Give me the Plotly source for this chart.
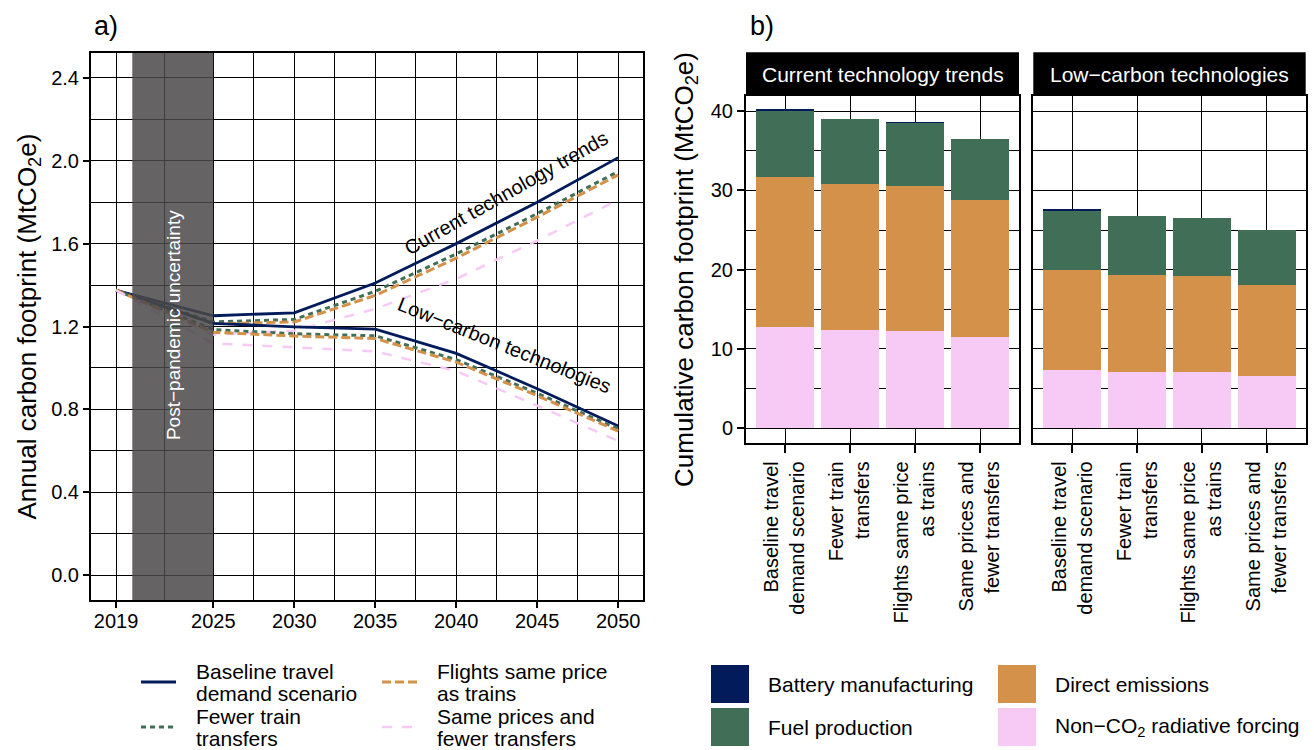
import plotly.graph_objects as go

W, H = 1314, 750
FONT = "Liberation Sans, Arial, sans-serif"

# ---- panel a: annual footprint by scenario ----
years = [2019, 2025, 2030, 2035, 2040, 2045, 2050]

current_baseline = [1.375, 1.252, 1.266, 1.410, 1.600, 1.800, 2.015]
current_fewer = [1.375, 1.222, 1.234, 1.370, 1.550, 1.745, 1.948]
current_flights = [1.375, 1.213, 1.222, 1.350, 1.530, 1.728, 1.932]
current_same = [1.375, 1.160, 1.180, 1.285, 1.430, 1.615, 1.812]

lowc_baseline = [1.375, 1.215, 1.198, 1.187, 1.070, 0.900, 0.720]
lowc_fewer = [1.375, 1.185, 1.165, 1.155, 1.040, 0.878, 0.706]
lowc_flights = [1.375, 1.172, 1.154, 1.142, 1.028, 0.866, 0.695]
lowc_same = [1.375, 1.118, 1.100, 1.080, 0.985, 0.818, 0.647]

year_ticks = [2019, 2025, 2030, 2035, 2040, 2045, 2050]
year_minor = [2022, 2027.5, 2032.5, 2037.5, 2042.5, 2047.5]
annual_ticks = [0.0, 0.4, 0.8, 1.2, 1.6, 2.0, 2.4]

# ---- panel b: cumulative footprint by component ----
scenario_labels = ["Baseline travel<br>demand scenario", "Fewer train<br>transfers",
                   "Flights same price<br>as trains", "Same prices and<br>fewer transfers"]

nonco2_current = [12.83, 12.45, 12.32, 11.56]
direct_current = [18.92, 18.42, 18.29, 17.29]
fuel_current = [8.41, 8.20, 7.99, 7.69]
battery_current = [0.05, 0.00, 0.05, 0.00]

nonco2_lowc = [7.40, 7.15, 7.15, 6.64]
direct_lowc = [12.62, 12.24, 12.11, 11.48]
fuel_lowc = [7.44, 7.44, 7.32, 6.94]
battery_lowc = [0.13, 0.00, 0.00, 0.00]

NAVY = "#011b5b"
GREEN = "#406e57"
ORANGE = "#d4914a"
PINK = "#f7caf6"

line_styles = [
    ("Baseline travel demand scenario", NAVY, 2.8, "solid"),
    ("Fewer train transfers", GREEN, 3, "5px,4px"),
    ("Flights same price as trains", ORANGE, 3, "9px,4px"),
    ("Same prices and fewer transfers", PINK, 2.5, "10px,10px"),
]


def px_x(p):
    return p / W


def px_y(p):
    return 1 - p / H


fig = go.Figure()

for series_set in ([current_baseline, current_fewer, current_flights, current_same],
                   [lowc_baseline, lowc_fewer, lowc_flights, lowc_same]):
    for vals, (name, color, width, dash) in zip(series_set, line_styles):
        fig.add_trace(go.Scatter(
            x=years, y=vals, mode="lines", name=name, showlegend=False,
            line=dict(color=color, width=width, dash=dash),
            xaxis="x", yaxis="y"))

components = [
    ("Non-CO2 radiative forcing", PINK, nonco2_current, nonco2_lowc),
    ("Direct emissions", ORANGE, direct_current, direct_lowc),
    ("Fuel production", GREEN, fuel_current, fuel_lowc),
    ("Battery manufacturing", NAVY, battery_current, battery_lowc),
]
for name, color, cur, low in components:
    fig.add_trace(go.Bar(x=scenario_labels, y=cur, name=name, showlegend=False,
                         marker=dict(color=color, line=dict(width=0)), width=0.9,
                         xaxis="x2", yaxis="y2"))
    fig.add_trace(go.Bar(x=scenario_labels, y=low, name=name, showlegend=False,
                         marker=dict(color=color, line=dict(width=0)), width=0.9,
                         xaxis="x3", yaxis="y3"))

frame = dict(showline=True, mirror=True, linecolor="black", linewidth=2,
             ticks="outside", tickcolor="black", tickwidth=2,
             showgrid=True, gridcolor="black", gridwidth=1, zeroline=False,
             tickfont=dict(family=FONT, size=20, color="black"))

dom_a_x = [px_x(91), px_x(643.3)]
dom_a_y = [px_y(600), px_y(53)]
dom_b1_x = [px_x(746), px_x(1019)]
dom_b2_x = [px_x(1033.3), px_x(1305.7)]
dom_b_y = [px_y(443.3), px_y(95.7)]

fig.update_layout(
    width=W, height=H, margin=dict(l=0, r=0, t=0, b=0),
    paper_bgcolor="white", plot_bgcolor="white", barmode="stack",
    font=dict(family=FONT, color="black"),
    xaxis=dict(domain=dom_a_x, range=[2017.45, 2051.55], tickmode="array",
               tickvals=year_ticks, ticklen=6, ticklabelstandoff=-4,
               minor=dict(tickvals=year_minor, showgrid=True, gridcolor="black",
                          gridwidth=1, ticks=""), **frame),
    yaxis=dict(domain=dom_a_y, range=[-0.12, 2.52], tickmode="array",
               tickvals=annual_ticks, ticktext=[f"{v:.1f}" for v in annual_ticks],
               ticklen=6,
               minor=dict(dtick=0.2, tick0=0, showgrid=True, gridcolor="black",
                          gridwidth=1, ticks=""), **frame),
    xaxis2=dict(domain=dom_b1_x, anchor="y2", range=[-0.6, 3.6], tickangle=-90,
                ticklen=8, categoryorder="array", categoryarray=scenario_labels, **frame),
    yaxis2=dict(domain=dom_b_y, anchor="x2", range=[-1.9, 41.95], dtick=10, tick0=0,
                ticklen=7,
                minor=dict(dtick=5, tick0=0, showgrid=True, gridcolor="black",
                           gridwidth=1, ticks=""), **frame),
    xaxis3=dict(domain=dom_b2_x, anchor="y3", range=[-0.6, 3.6], tickangle=-90,
                ticklen=8, categoryorder="array", categoryarray=scenario_labels, **frame),
    yaxis3=dict(domain=dom_b_y, anchor="x3", range=[-1.9, 41.95], dtick=10, tick0=0,
                showticklabels=False, ticks="", matches="y2",
                minor=dict(dtick=5, tick0=0, showgrid=True, gridcolor="black",
                           gridwidth=1, ticks=""),
                **{k: v for k, v in frame.items() if k != "ticks"}),
)

shapes = []
annotations = []


def note(x, y, text, size, xref="paper", yref="paper", color="black", angle=0,
         xanchor="center", yanchor="middle"):
    annotations.append(dict(x=x, y=y, xref=xref, yref=yref, text=text, textangle=angle,
                            xanchor=xanchor, yanchor=yanchor, showarrow=False,
                            font=dict(family=FONT, size=size, color=color)))


# post-pandemic band
shapes.append(dict(type="rect", xref="x", yref="y domain", x0=2020, x1=2025, y0=0, y1=1,
                   fillcolor="rgba(74,72,73,0.85)", line=dict(width=0), layer="above"))
note(2022.5, 1.206, "Post\u2212pandemic uncertainty", 19, "x", "y", "white", -90)
note(2043.07, 1.845, "Current technology trends", 20, "x", "y", angle=-29.5)
note(2042.97, 1.113, "Low\u2212carbon technologies", 20, "x", "y", angle=21.7)

# facet strips
for axref, label in (("x2", "Current technology trends"), ("x3", "Low\u2212carbon technologies")):
    shapes.append(dict(type="rect", xref=f"{axref} domain", yref="paper", x0=0, x1=1,
                       y0=px_y(95.7), y1=px_y(52.3), fillcolor="black", line=dict(width=0)))
    note(0.5, px_y(74), label, 21, f"{axref} domain", "paper", "white")

# panel tags and axis titles
note(px_x(92), px_y(26), "a)", 27, xanchor="left")
note(px_x(748), px_y(26), "b)", 27, xanchor="left")
note(px_x(28), px_y(326.5), "Annual carbon footprint (MtCO<sub>2</sub>e)", 26, angle=-90)
note(px_x(685), px_y(270), "Cumulative carbon footprint (MtCO<sub>2</sub>e)", 26, angle=-90)

# legend for panel a
legend_a = [
    (0, 141, 682, ["Baseline travel", "demand scenario"]),
    (1, 141, 727, ["Fewer train", "transfers"]),
    (2, 382, 682, ["Flights same price", "as trains"]),
    (3, 382, 727, ["Same prices and", "fewer transfers"]),
]
for idx, x0, yc, lines in legend_a:
    _, color, width, dash = line_styles[idx]
    shapes.append(dict(type="line", xref="paper", yref="paper",
                       x0=px_x(x0), x1=px_x(x0 + 35), y0=px_y(yc), y1=px_y(yc),
                       line=dict(color=color, width=width, dash=dash)))
    for k, txt in enumerate(lines):
        note(px_x(x0 + 53), px_y(yc - 10.5 + 21.5 * k), txt, 21, xanchor="left")

# legend for panel b
legend_b = [
    ("Battery manufacturing", NAVY, 711, 665),
    ("Fuel production", GREEN, 711, 708),
    ("Direct emissions", ORANGE, 998, 665),
    ("Non\u2212CO<sub>2</sub> radiative forcing", PINK, 998, 708),
]
for txt, color, x0, y0 in legend_b:
    shapes.append(dict(type="rect", xref="paper", yref="paper",
                       x0=px_x(x0), x1=px_x(x0 + 38), y0=px_y(y0 + 38), y1=px_y(y0),
                       fillcolor=color, line=dict(width=0)))
    note(px_x(x0 + 55), px_y(y0 + 19), txt, 21, xanchor="left")

fig.update_layout(shapes=shapes, annotations=annotations)
fig.write_html("out.html")
